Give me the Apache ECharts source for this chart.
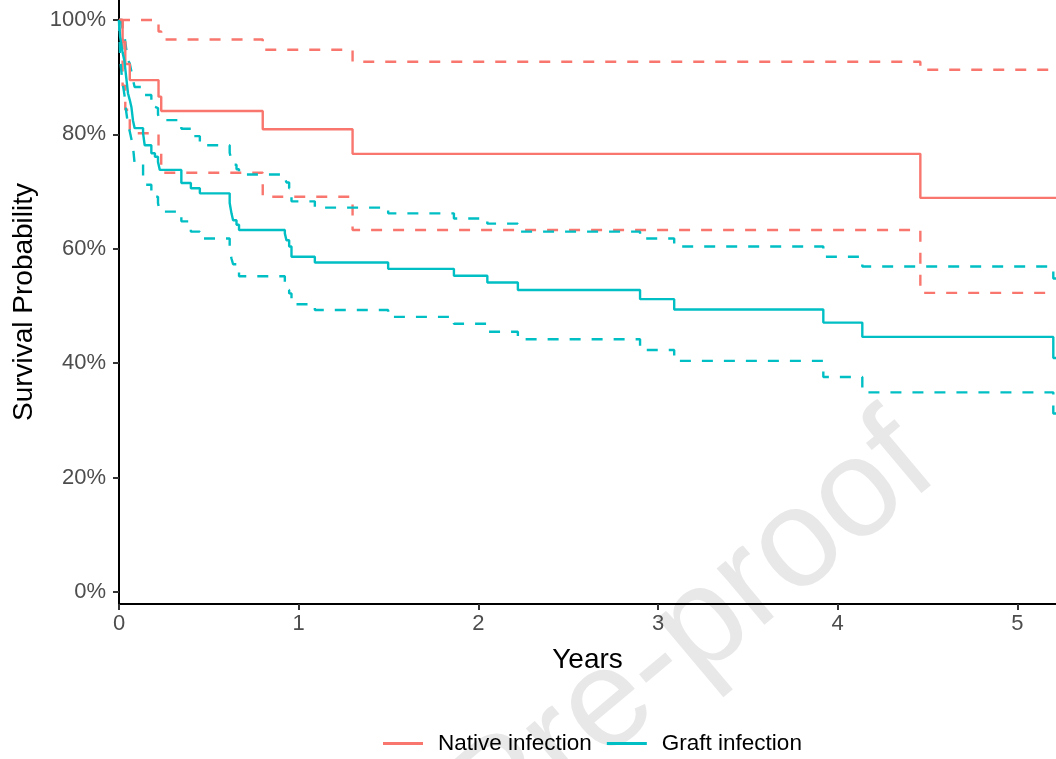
<!DOCTYPE html>
<html>
<head>
<meta charset="utf-8">
<script src="https://cdn.jsdelivr.net/npm/echarts@6/dist/echarts.min.js"></script>
<style>
  html, body { margin: 0; padding: 0; background: #fff; }
  #chart { width: 1056px; height: 759px; }
</style>
</head>
<body>
<div id="chart"></div>
<script>
// Native infection: step times (years) and survival (%)
var nativeTimes = [0, 0.02, 0.035, 0.06, 0.22, 0.235, 0.8, 1.3, 4.46, 5.215];
var nativeEst   = [100, 96.2, 92.3, 89.5, 86.6, 84.1, 80.9, 76.6, 68.9, 68.9];
var nativeUpper = [100, 100, 100, 100, 98.0, 96.6, 94.8, 92.7, 91.3, 91.3];
var nativeLower = [100, 88.5, 84.3, 80.2, 76.8, 73.3, 69.1, 63.3, 52.3, 52.3];

// Graft infection
var graftTimes = [0, 0.006, 0.013, 0.02, 0.03, 0.04, 0.05, 0.06, 0.069, 0.078, 0.087, 0.134, 0.143, 0.18, 0.2, 0.217, 0.227,
  0.347, 0.40, 0.45, 0.616, 0.626, 0.635, 0.654, 0.668, 0.923, 0.932, 0.947, 0.96, 1.09, 1.498, 1.864, 2.05, 2.22,
  2.90, 3.09, 3.92, 4.137, 5.2, 5.215];
var graftEst = [100, 97.1, 95.7, 94.3, 92.9, 90.0, 87.2, 86.0, 84.8, 82.4, 81.1, 80.2, 78.1, 76.7, 76.1, 75.2, 73.8,
  71.5, 70.6, 69.7, 68.0, 66.2, 65.0, 64.2, 63.3, 62.7, 61.5, 60.4, 58.6, 57.6, 56.5, 55.3, 54.1, 52.8,
  51.2, 49.4, 47.1, 44.6, 40.9, 40.9];
var graftUpper = [100, 100, 99.5, 98.5, 97.3, 95.0, 93.0, 92.4, 91.0, 89.5, 88.3, 87.5, 86.9, 84.8, 84.6, 83.5, 82.5,
  81.0, 79.7, 78.1, 76.8, 75.5, 74.7, 73.9, 73.0, 72.4, 71.6, 70.6, 68.3, 67.2, 66.2, 65.3, 64.4, 63.0,
  61.8, 60.4, 58.6, 56.9, 54.8, 54.8];
var graftLower = [100, 93.5, 91.0, 89.0, 87.0, 84.0, 81.8, 80.5, 79.2, 77.8, 74.9, 72.3, 71.2, 70.0, 69.1, 68.0, 66.5,
  64.8, 63.0, 61.8, 59.8, 58.3, 57.3, 56.3, 55.2, 53.4, 52.8, 52.2, 50.3, 49.3, 48.1, 46.9, 45.5, 44.2,
  42.3, 40.4, 37.6, 34.9, 31.2, 31.2];

var yTicks = [0, 20, 40, 60, 80, 100];
var groupNames = ['Native infection', 'Graft infection'];

var RED = '#F8766D';
var TEAL = '#00BFC4';
var FONT = '"Liberation Sans", Arial, sans-serif';

function pairs(times, vals) {
  return times.map(function (t, i) { return [t, vals[i]]; });
}

function stepSeries(name, color, times, vals, dashed) {
  return {
    name: name,
    type: 'line',
    step: 'end',
    symbol: 'none',
    silent: true,
    animation: false,
    clip: true,
    data: pairs(times, vals),
    lineStyle: { color: color, width: 2.4, type: dashed ? [11, 11] : 'solid' },
    itemStyle: { color: color },
    z: dashed ? 2 : 3
  };
}

var chart = echarts.init(document.getElementById('chart'));

chart.setOption({
  backgroundColor: '#ffffff',
  animation: false,
  textStyle: { fontFamily: FONT },
  grid: { left: 119, right: 0, top: 0, bottom: 155, containLabel: false },
  graphic: [{
    type: 'text',
    z: -10,
    silent: true,
    x: 962,
    y: 500,
    rotation: 40 * Math.PI / 180,
    style: {
      text: 'Journal Pre-proof',
      font: '140px ' + FONT,
      fill: '#e8e8e8',
      align: 'right',
      verticalAlign: 'bottom'
    }
  }],
  legend: {
    data: groupNames,
    left: 378,
    top: 727,
    icon: 'rect',
    itemWidth: 40,
    itemHeight: 3,
    itemGap: 15,
    textStyle: { fontSize: 22.5, color: '#000', fontFamily: FONT, padding: [0, 0, 0, 10] }
  },
  xAxis: {
    type: 'value',
    min: 0,
    max: 5.215,
    interval: 1,
    name: 'Years',
    nameLocation: 'middle',
    nameGap: 42,
    nameTextStyle: { fontSize: 28, color: '#000', fontFamily: FONT },
    axisLine: { onZero: false, lineStyle: { color: '#000', width: 2 } },
    axisTick: { length: 6, lineStyle: { color: '#333', width: 2 } },
    axisLabel: { fontSize: 22, color: '#4d4d4d', margin: 9, fontFamily: FONT,
      showMaxLabel: false },
    splitLine: { show: false }
  },
  yAxis: {
    type: 'value',
    min: -2.1,
    max: 103.5,
    name: 'Survival Probability',
    nameLocation: 'middle',
    nameGap: 81,
    nameTextStyle: { fontSize: 28, color: '#000', fontFamily: FONT },
    axisLine: { onZero: false, lineStyle: { color: '#000', width: 2 } },
    axisTick: { length: 6, customValues: yTicks, lineStyle: { color: '#333', width: 2 } },
    axisLabel: { fontSize: 22, color: '#4d4d4d', margin: 13, fontFamily: FONT,
      customValues: yTicks,
      formatter: function (v) { return Math.round(v) + '%'; } },
    splitLine: { show: false }
  },
  series: [
    stepSeries('Native upper', RED, nativeTimes, nativeUpper, true),
    stepSeries('Native lower', RED, nativeTimes, nativeLower, true),
    stepSeries('Graft upper', TEAL, graftTimes, graftUpper, true),
    stepSeries('Graft lower', TEAL, graftTimes, graftLower, true),
    stepSeries(groupNames[0], RED, nativeTimes, nativeEst, false),
    stepSeries(groupNames[1], TEAL, graftTimes, graftEst, false)
  ]
});
</script>
</body>
</html>
